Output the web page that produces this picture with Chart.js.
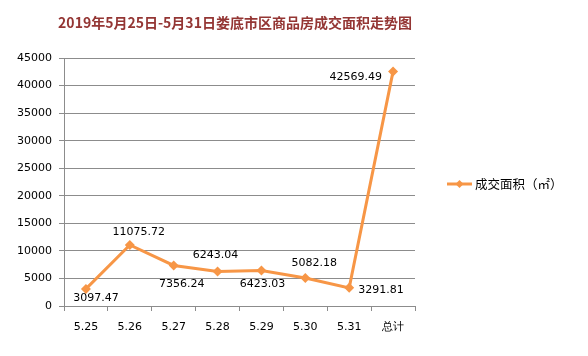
<!DOCTYPE html>
<html>
<head>
<meta charset="utf-8">
<script src="https://cdn.jsdelivr.net/npm/chart.js@4"></script>
<style>
  html, body { margin: 0; padding: 0; background: #fff; }
  #wrap { width: 588px; height: 356px; position: relative; }
</style>
</head>
<body>
<div id="wrap"><canvas id="chart"></canvas></div>
<script>
// chart data
const chartTitle = "2019年5月25日-5月31日娄底市区商品房成交面积走势图";
const seriesName = "成交面积（㎡）";
const categories = ["5.25", "5.26", "5.27", "5.28", "5.29", "5.30", "5.31", "总计"];
const areaValues = [3097.47, 11075.72, 7356.24, 6243.04, 6423.03, 5082.18, 3291.81, 42569.49];
const yTicks = [0, 5000, 10000, 15000, 20000, 25000, 30000, 35000, 40000, 45000];

const orange = "#F79646";
const gridGray = "#8c8c8c";
const numFont = "11px 'DejaVu Sans'";

// where each value label sits relative to its point [dx, dy, align]
const labelPlace = [
  [10, 9, "center"], [9, -13, "center"], [8, 19, "center"], [-2, -16, "center"],
  [1, 14, "center"], [9, -15, "center"], [9, 2, "left"], [-11, 6, "right"]
];

//custom plugin: title, value labels and legend
const extras = {
  id: "extras",
  afterDatasetsDraw(chart) {
    const ctx = chart.ctx;
    const meta = chart.getDatasetMeta(0);
    ctx.save();
    ctx.fillStyle = "#000";
    ctx.font = numFont;
    ctx.textBaseline = "middle";
    meta.data.forEach((pt, i) => {
      const p = labelPlace[i];
      ctx.textAlign = p[2];
      ctx.fillText(areaValues[i].toFixed(2), pt.x + p[0], pt.y + p[1]);
    });
    ctx.restore();
  },
  afterDraw(chart) {
    const ctx = chart.ctx;
    ctx.save();
    //title
    ctx.fillStyle = "#943634";
    ctx.font = "bold 14px 'Noto Sans CJK SC'";
    ctx.textAlign = "center";
    ctx.textBaseline = "middle";
    ctx.fillText(chartTitle, 235, 23);
    //legend
    const ly = 184;
    ctx.strokeStyle = orange;
    ctx.lineWidth = 3;
    ctx.beginPath();
    ctx.moveTo(447, ly);
    ctx.lineTo(472, ly);
    ctx.stroke();
    ctx.fillStyle = orange;
    ctx.beginPath();
    ctx.moveTo(459.5, ly - 4);
    ctx.lineTo(463.5, ly);
    ctx.lineTo(459.5, ly + 4);
    ctx.lineTo(455.5, ly);
    ctx.closePath();
    ctx.fill();
    ctx.fillStyle = "#000";
    ctx.font = "12.5px 'Noto Sans CJK SC'";
    ctx.textAlign = "left";
    ctx.fillText(seriesName, 475, ly);
    ctx.restore();
  }
};

new Chart(document.getElementById("chart"), {
  type: "line",
  plugins: [extras],
  data: {
    labels: categories,
    datasets: [{
      label: seriesName,
      data: areaValues,
      borderColor: orange,
      backgroundColor: orange,
      borderWidth: 3,
      pointStyle: "rectRot",
      pointRadius: 5,
      pointBorderWidth: 0,
      tension: 0
    }]
  },
  options: {
    responsive: true,
    maintainAspectRatio: false,
    animation: false,
    layout: { padding: { top: 58, right: 173, left: 0, bottom: 0 } },
    plugins: { legend: { display: false }, tooltip: { enabled: false } },
    scales: {
      x: {
        offset: true,
        afterFit: (s) => { s.height = 50; },
        grid: { drawOnChartArea: false, offset: true, tickLength: 5, color: gridGray },
        border: { color: gridGray },
        ticks: { color: "#000", font: { family: "DejaVu Sans", size: 11 }, padding: 10, maxRotation: 0 }
      },
      y: {
        min: 0,
        max: 45000,
        afterFit: (s) => { s.width = 64; },
        afterBuildTicks: (s) => { s.ticks = yTicks.map(v => ({ value: v })); },
        grid: { color: gridGray, tickLength: 5 },
        border: { color: gridGray },
        ticks: { color: "#000", font: { family: "DejaVu Sans", size: 11 }, padding: 7, callback: (v) => String(v) }
      }
    }
  }
});
</script>
</body>
</html>
